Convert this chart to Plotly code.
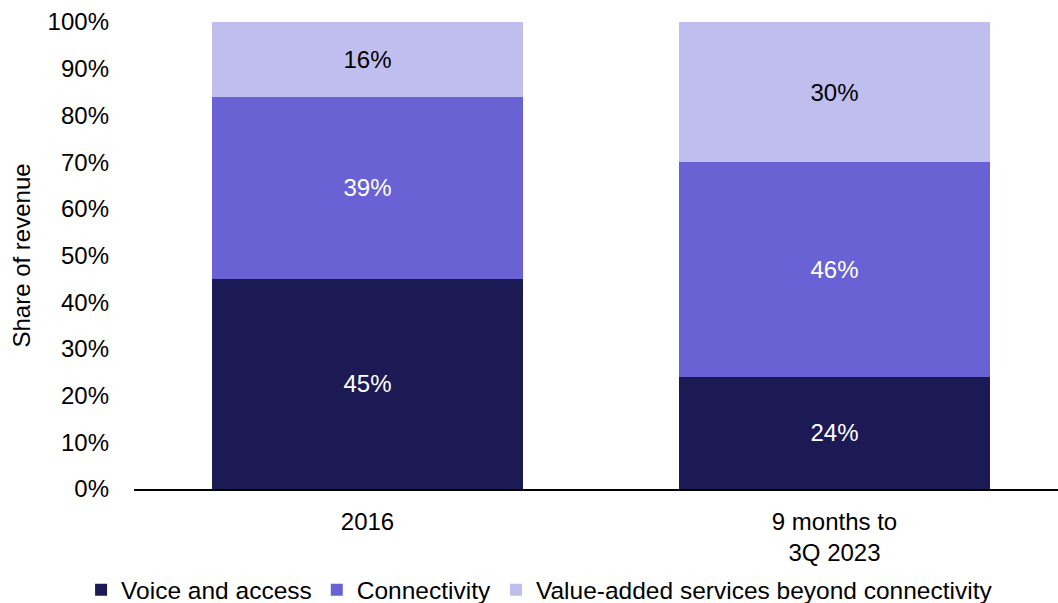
import plotly.graph_objects as go

categories = ["2016", "9 months to<br>3Q 2023"]
series_names = ["Voice and access", "Connectivity", "Value-added services beyond connectivity"]
voice = [45, 24]
connectivity = [39, 46]
value_added = [16, 30]
y_ticks = [0, 10, 20, 30, 40, 50, 60, 70, 80, 90, 100]
y_tick_labels = [f"{v}%" for v in y_ticks]

colors = ["#1c1a55", "#6962d4", "#c0bdef"]
text_colors = ["white", "white", "black"]
FONT = "Liberation Sans"
FS = 24

fig = go.Figure()
for name, vals, c, tc in zip(series_names, [voice, connectivity, value_added], colors, text_colors):
    fig.add_trace(go.Bar(
        x=[0, 1], y=vals, name=name,
        marker=dict(color=c, line=dict(width=0)),
        width=0.666,
        text=[f"{v}%" for v in vals],
        textposition="inside", insidetextanchor="middle",
        textfont=dict(color=tc, size=FS, family=FONT),
        hoverinfo="skip",
    ))

fig.update_layout(
    barmode="stack",
    width=1058, height=603,
    margin=dict(l=134, r=0, t=22, b=114, autoexpand=False),
    paper_bgcolor="white", plot_bgcolor="white",
    font=dict(family=FONT, size=FS, color="black"),
    showlegend=True,
    legend=dict(orientation="h", xref="container", x=0.51, xanchor="center",
                yref="paper", y=-0.216, yanchor="middle",
                bgcolor="rgba(0,0,0,0)",
                font=dict(size=24.5, family=FONT), itemwidth=30,
                traceorder="normal"),
    uniformtext=dict(mode=False),
)
fig.update_xaxes(
    tickmode="array", tickvals=[0, 1], ticktext=categories,
    range=[-0.5, 1.4786], showgrid=False, zeroline=False,
    showline=True, linecolor="black", linewidth=1.5, automargin=False,
    ticks="", ticklabelstandoff=10, tickfont=dict(size=FS, family=FONT),
)
fig.update_yaxes(
    range=[0, 100], tickmode="array", tickvals=y_ticks, ticktext=y_tick_labels,
    showgrid=False, zeroline=False, showline=False, ticks="", automargin=False,
    ticklabelstandoff=24,
    title=dict(text="Share of revenue", standoff=10, font=dict(size=FS, family=FONT)),
    tickfont=dict(size=FS, family=FONT),
)
fig.write_html("out.html")
